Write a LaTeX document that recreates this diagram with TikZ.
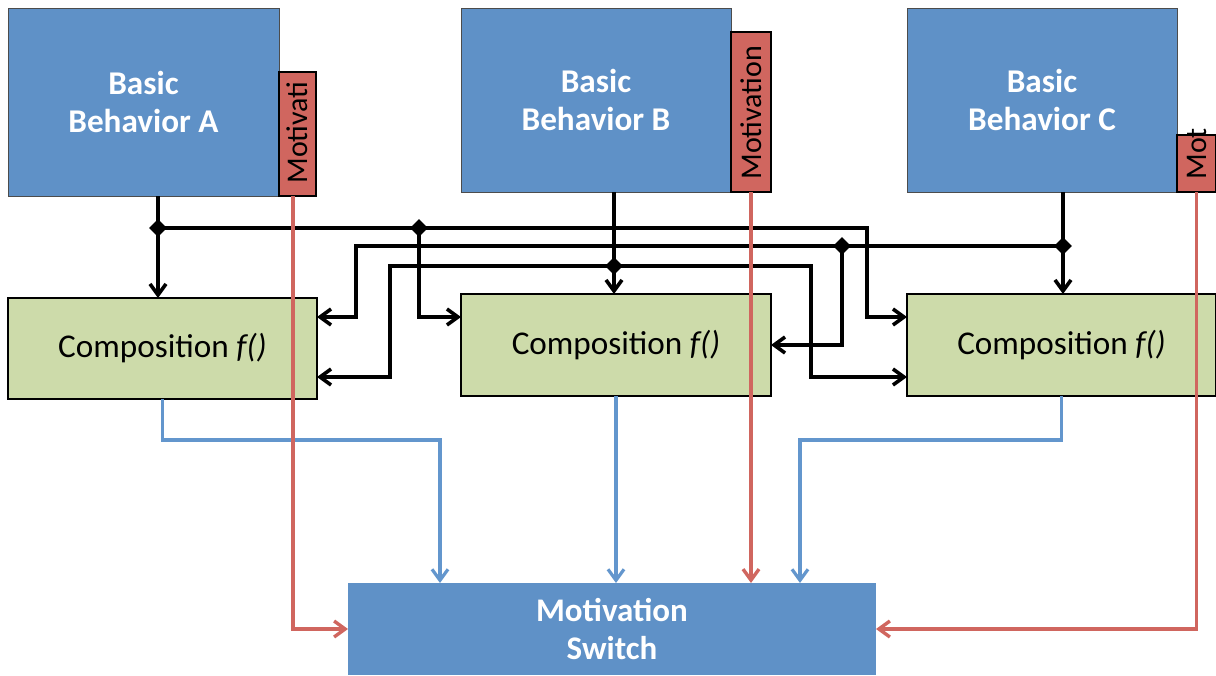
\documentclass[tikz,border=0pt]{standalone}
\usepackage{fontspec}
\setmainfont{Carlito}
\usetikzlibrary{arrows.meta,shapes.geometric}
\definecolor{bhvblue}{RGB}{95,145,199}
\definecolor{motred}{RGB}{208,102,95}
\definecolor{compgreen}{RGB}{205,219,170}
\definecolor{lineblue}{RGB}{99,150,205}
\begin{document}
\begin{tikzpicture}[x=0.5pt,y=-0.5pt,
  >={Straight Barb[length=5.5pt,width=8pt]},
  behavior/.style={rectangle, fill=bhvblue, draw=black!70, line width=0.5pt,
    inner sep=0pt, outer sep=0pt, text=white, align=center,
    font=\bfseries\fontsize{16.6}{19}\selectfont},
  motbar/.style={rectangle, fill=motred, draw=black, line width=0.6pt,
    inner sep=0pt, outer sep=0pt},
  mottext/.style={rotate=90, anchor=west, inner sep=0pt,
    font=\fontsize{15}{18}\selectfont},
  comp/.style={rectangle, fill=compgreen, draw=black, line width=0.8pt,
    inner sep=0pt, outer sep=0pt, font=\fontsize{16.6}{19}\selectfont},
  switchbox/.style={rectangle, fill=bhvblue, inner sep=0pt, outer sep=0pt,
    text=white, align=center, font=\bfseries\fontsize{16.5}{19}\selectfont},
  wire/.style={line width=1.8pt, black},
  junction/.style={diamond, fill=black, inner sep=0pt, minimum size=9pt},
  motline/.style={line width=1.7pt, motred},
  outline/.style={line width=1.6pt, lineblue}]
  \useasboundingbox (0,0) rectangle (1216,675);

  % basic behaviors
  \node[behavior, minimum width=135.5pt, minimum height=94pt] (bA) at (143.5,102) {Basic\\Behavior A};
  \node[behavior, minimum width=135pt, minimum height=92pt] (bB) at (596,100) {Basic\\Behavior B};
  \node[behavior, minimum width=135pt, minimum height=92pt] (bC) at (1042,100) {Basic\\Behavior C};

  % motivation bars
  \node[motbar, minimum width=18.5pt, minimum height=62pt] (mA) at (297.5,134) {};
  \node[motbar, minimum width=20pt, minimum height=80pt] (mB) at (751,112) {};
  \node[motbar, minimum width=19.5pt, minimum height=28.5pt] (mC) at (1196.5,163.5) {};
  \node[mottext] (tA) at ([yshift=6pt]mA.south) {Motivati};
  \node[mottext] (tB) at ([yshift=6pt]mB.south) {Motivation};
  \node[mottext] (tC) at ([yshift=6pt]mC.south) {Mot};

  % compositions
  \node[comp, minimum width=154.5pt, minimum height=50.5pt] (gA) at (162.5,348.5) {Composition \textit{f()}};
  \node[comp, minimum width=155pt, minimum height=51pt] (gB) at (616,345) {Composition \textit{f()}};
  \node[comp, minimum width=154.5pt, minimum height=51pt] (gC) at (1061.5,345) {Composition \textit{f()}};

  % switch
  \node[switchbox, minimum width=264pt, minimum height=46pt] (sw) at (612,629) {Motivation\\Switch};

  % junctions
  \coordinate (dA) at (158,228);
  \coordinate (dAB) at (419,228);
  \coordinate (dB) at (614,266);
  \coordinate (dC) at (1063,246);
  \coordinate (dCB) at (842,246);

  % behavior outputs to compositions
  \draw[wire,->] (bA.south -| dA) -- (dA |- gA.north);
  \draw[wire,->] (dA) -- (867,228) |- ([yshift=14pt]gC.west);
  \draw[wire,->] (dAB) |- ([yshift=14pt]gB.west);
  \draw[wire,->] (bB.south -| dB) -- (dB |- gB.north);
  \draw[wire,->] (dB) -- (390,266) |- ([yshift=-14.25pt]gA.east);
  \draw[wire,->] (dB) -- (811,266) |- ([yshift=-16pt]gC.west);
  \draw[wire,->] (bC.south -| dC) -- (dC |- gC.north);
  \draw[wire,->] (dC) -- (356,246) |- ([yshift=15.75pt]gA.east);
  \draw[wire,->] (dCB) |- (gB.east);
  \foreach \j in {dA,dAB,dB,dC,dCB}
    \node[junction] (n\j) at (\j) {};

  % compositions to switch
  \draw[outline,->] (gA.south) -- ++(0,41) -| ([xshift=-86pt]sw.north);
  \draw[outline,->] (gB.south) -- (gB.south |- sw.north);
  \draw[outline,->] (gC.south) -- ++(0,44) -| ([xshift=94pt]sw.north);

  % motivations to switch
  \draw[motline,->] ([xshift=-2.25pt]mA.south) |- (sw.west);
  \draw[motline,->] (mB.south) -- (mB.south |- sw.north);
  \draw[motline,->] (mC.south) |- (sw.east);
\end{tikzpicture}
\end{document}
